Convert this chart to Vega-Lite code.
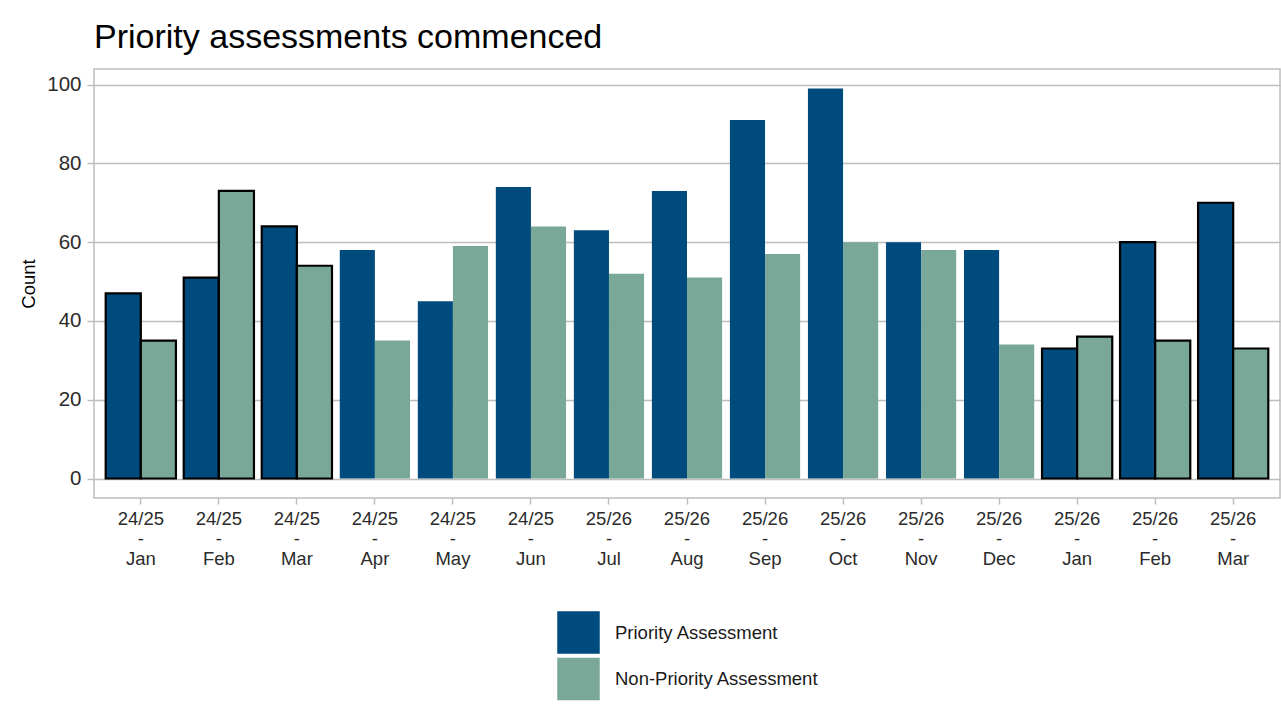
{
  "$schema": "https://vega.github.io/schema/vega-lite/v6.json",
  "autosize": {"type": "none"},
  "width": 1186,
  "height": 429,
  "padding": {"left": 94, "top": 69, "right": 1, "bottom": 221},
  "background": "white",
  "title": {
    "text": "Priority assessments commenced",
    "anchor": "start",
    "frame": "group",
    "font": "Liberation Sans",
    "fontSize": 34,
    "fontWeight": "normal",
    "color": "#000000",
    "baseline": "alphabetic",
    "offset": -13
  },
  "config": {
    "font": "Liberation Sans",
    "view": {"stroke": "#bdbdbd", "strokeWidth": 1.5}
  },
  "data": {
    "values": [
      {"period": "24/25 - Jan", "month": "Jan", "type": "Priority Assessment", "count": 47},
      {"period": "24/25 - Jan", "month": "Jan", "type": "Non-Priority Assessment", "count": 35},
      {"period": "24/25 - Feb", "month": "Feb", "type": "Priority Assessment", "count": 51},
      {"period": "24/25 - Feb", "month": "Feb", "type": "Non-Priority Assessment", "count": 73},
      {"period": "24/25 - Mar", "month": "Mar", "type": "Priority Assessment", "count": 64},
      {"period": "24/25 - Mar", "month": "Mar", "type": "Non-Priority Assessment", "count": 54},
      {"period": "24/25 - Apr", "month": "Apr", "type": "Priority Assessment", "count": 58},
      {"period": "24/25 - Apr", "month": "Apr", "type": "Non-Priority Assessment", "count": 35},
      {"period": "24/25 - May", "month": "May", "type": "Priority Assessment", "count": 45},
      {"period": "24/25 - May", "month": "May", "type": "Non-Priority Assessment", "count": 59},
      {"period": "24/25 - Jun", "month": "Jun", "type": "Priority Assessment", "count": 74},
      {"period": "24/25 - Jun", "month": "Jun", "type": "Non-Priority Assessment", "count": 64},
      {"period": "25/26 - Jul", "month": "Jul", "type": "Priority Assessment", "count": 63},
      {"period": "25/26 - Jul", "month": "Jul", "type": "Non-Priority Assessment", "count": 52},
      {"period": "25/26 - Aug", "month": "Aug", "type": "Priority Assessment", "count": 73},
      {"period": "25/26 - Aug", "month": "Aug", "type": "Non-Priority Assessment", "count": 51},
      {"period": "25/26 - Sep", "month": "Sep", "type": "Priority Assessment", "count": 91},
      {"period": "25/26 - Sep", "month": "Sep", "type": "Non-Priority Assessment", "count": 57},
      {"period": "25/26 - Oct", "month": "Oct", "type": "Priority Assessment", "count": 99},
      {"period": "25/26 - Oct", "month": "Oct", "type": "Non-Priority Assessment", "count": 60},
      {"period": "25/26 - Nov", "month": "Nov", "type": "Priority Assessment", "count": 60},
      {"period": "25/26 - Nov", "month": "Nov", "type": "Non-Priority Assessment", "count": 58},
      {"period": "25/26 - Dec", "month": "Dec", "type": "Priority Assessment", "count": 58},
      {"period": "25/26 - Dec", "month": "Dec", "type": "Non-Priority Assessment", "count": 34},
      {"period": "25/26 - Jan", "month": "Jan", "type": "Priority Assessment", "count": 33},
      {"period": "25/26 - Jan", "month": "Jan", "type": "Non-Priority Assessment", "count": 36},
      {"period": "25/26 - Feb", "month": "Feb", "type": "Priority Assessment", "count": 60},
      {"period": "25/26 - Feb", "month": "Feb", "type": "Non-Priority Assessment", "count": 35},
      {"period": "25/26 - Mar", "month": "Mar", "type": "Priority Assessment", "count": 70},
      {"period": "25/26 - Mar", "month": "Mar", "type": "Non-Priority Assessment", "count": 33}
    ]
  },
  "mark": {"type": "bar"},
  "encoding": {
    "x": {
      "field": "period",
      "type": "nominal",
      "sort": null,
      "scale": {"paddingInner": 0.1, "paddingOuter": 0.15},
      "axis": {
        "title": null,
        "labelAngle": 0,
        "labelExpr": "split(datum.label, ' ')",
        "labelFontSize": 18.5,
        "labelColor": "#2b2b2b",
        "labelLineHeight": 20,
        "labelPadding": 5,
        "tickSize": 6,
        "tickColor": "#bdbdbd",
        "tickWidth": 1.5,
        "domain": false,
        "grid": false
      }
    },
    "xOffset": {
      "field": "type",
      "type": "nominal",
      "sort": ["Priority Assessment", "Non-Priority Assessment"],
      "scale": {"paddingInner": 0, "paddingOuter": 0}
    },
    "y": {
      "field": "count",
      "type": "quantitative",
      "scale": {"domain": [-4.95, 103.95], "nice": false, "zero": false},
      "axis": {
        "title": "Count",
        "titleFontSize": 18.5,
        "titleFontWeight": "normal",
        "titleColor": "#000000",
        "titlePadding": 8,
        "values": [0, 20, 40, 60, 80, 100],
        "labelFontSize": 20.5,
        "labelColor": "#2b2b2b",
        "labelPadding": 6,
        "tickSize": 7,
        "tickColor": "#bdbdbd",
        "tickWidth": 1.5,
        "domain": false,
        "grid": true,
        "gridColor": "#bdbdbd",
        "gridWidth": 1.5
      }
    },
    "y2": {"datum": 0},
    "color": {
      "field": "type",
      "type": "nominal",
      "sort": ["Priority Assessment", "Non-Priority Assessment"],
      "scale": {
        "domain": ["Priority Assessment", "Non-Priority Assessment"],
        "range": ["#004b7d", "#7aa898"]
      },
      "legend": {
        "title": null,
        "orient": "none",
        "legendX": 463,
        "legendY": 542,
        "direction": "vertical",
        "symbolType": "square",
        "symbolSize": 1806,
        "symbolStrokeWidth": 0,
        "symbolOpacity": 1,
        "rowPadding": 3.5,
        "labelFontSize": 18.5,
        "labelColor": "#1a1a1a",
        "labelOffset": 15,
        "labelLimit": 500,
        "padding": 0
      }
    },
    "stroke": {
      "condition": {"test": "indexof(['Jan','Feb','Mar'], datum.month) >= 0", "value": "#000000"},
      "value": "#ffffff"
    },
    "strokeWidth": {
      "condition": {"test": "indexof(['Jan','Feb','Mar'], datum.month) >= 0", "value": 2.2},
      "value": 0
    }
  }
}
